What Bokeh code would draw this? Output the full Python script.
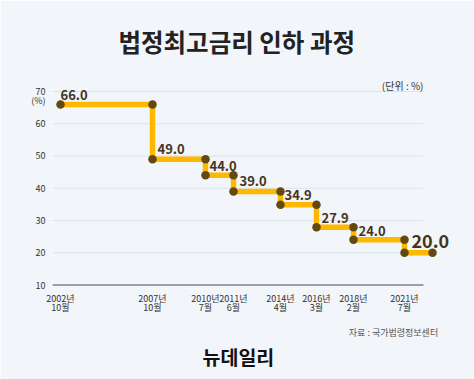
from bokeh.plotting import figure
from bokeh.models import Range1d, FixedTicker, Label, Title, LinearAxis
from bokeh.core.properties import value
from bokeh.embed import file_html
from bokeh.resources import INLINE

# ---- data ----
dates = ["2002년\n10월", "2007년\n10월", "2010년\n7월", "2011년\n6월",
         "2014년\n4월", "2016년\n3월", "2018년\n2월", "2021년\n7월"]
rates = [66.0, 49.0, 44.0, 39.0, 34.9, 27.9, 24.0, 20.0]
# horizontal slot of each date on the (hand-drawn, non-linear) time axis, plus the end of the last step
x_slot = [60, 152, 205, 233, 280, 316, 353, 404, 432]
y_ticks = [10, 20, 30, 40, 50, 60, 70]
unit_tick = 67.2          # where the "(%)" unit note sits under the top tick
source_tick = 393         # where the source note is centred
rate_labels = ["%.1f" % r for r in rates]

BG = "#f2f5fa"
FONT = "Noto Sans CJK KR"

# frame: 52..458 px horizontally, 70..288 px vertically
p = figure(width=474, height=379, output_backend="svg", toolbar_location=None,
           x_range=Range1d(52, 458), y_range=Range1d(8.915, 76.51),
           min_border_left=52, min_border_right=16, min_border_top=70, min_border_bottom=91)
p.background_fill_color = BG
p.border_fill_color = BG
p.outline_line_color = None
p.xgrid.visible = False
p.ygrid.visible = False

# title (above)
p.title.text = "법정최고금리 인하 과정"
p.title.align = "left"
p.title.offset = 66
p.title.text_font = FONT
p.title.text_font_style = "bold"
p.title.text_font_size = "24.5px"
p.title.text_color = "#222222"
p.title.standoff = 24

# axes
p.yaxis.ticker = FixedTicker(ticks=y_ticks + [unit_tick])
p.yaxis.major_label_overrides = {unit_tick: "(%)"}
p.yaxis.axis_line_color = None
p.yaxis.major_tick_line_color = None
p.yaxis.minor_tick_line_color = None
p.yaxis.major_tick_out = 0
p.yaxis.major_label_standoff = 7
p.yaxis.major_label_text_font = FONT
p.yaxis.major_label_text_font_size = "9px"
p.yaxis.major_label_text_color = "#333333"

p.xaxis.ticker = FixedTicker(ticks=x_slot[:len(dates)])
p.xaxis.major_label_overrides = {x: d for x, d in zip(x_slot, dates)}
p.xaxis.axis_line_color = None
p.xaxis.major_tick_line_color = None
p.xaxis.minor_tick_line_color = None
p.xaxis.major_tick_out = 0
p.xaxis.major_label_standoff = 3
p.xaxis.major_label_text_font = FONT
p.xaxis.major_label_text_font_size = "9px"
p.xaxis.major_label_text_line_height = 0.75
p.xaxis.major_label_text_color = "#333333"

# footer: source note (as a label-only axis row), then the logo title
src_axis = LinearAxis(ticker=FixedTicker(ticks=[source_tick]),
                      major_label_overrides={source_tick: "자료 : 국가법령정보센터"},
                      axis_line_color=None, major_tick_line_color=None, minor_tick_line_color=None,
                      major_tick_out=0, major_label_standoff=8,
                      major_label_text_font=FONT, major_label_text_font_size="9px",
                      major_label_text_color="#555555")
p.add_layout(src_axis, "below")
p.add_layout(Title(text="뉴데일리", align="left", offset=150, text_font=FONT,
                   text_font_size="19.5px", text_font_style="bold", text_color="#111111",
                   vertical_align="top", standoff=0), "below")

# grid lines (drawn from tick values)
grid_y = [t for t in y_ticks if t != y_ticks[0]]
p.segment(x0=52, x1=423, y0=grid_y, y1=grid_y, line_color="#dde2ea", line_width=1)
p.segment(x0=52, x1=423, y0=[y_ticks[0]], y1=[y_ticks[0]], line_color="#7d828c", line_width=1.5)

# step line
step_x = x_slot
step_y = rates + [rates[-1]]
p.step(x=step_x, y=step_y, mode="after", line_color="#ffb800", line_width=5.5, line_join="miter")

# dots at each corner
dot_x = [x_slot[0]]
dot_y = [rates[0]]
for i in range(1, len(rates)):
    dot_x += [x_slot[i], x_slot[i]]
    dot_y += [rates[i - 1], rates[i]]
dot_x.append(x_slot[-1])
dot_y.append(rates[-1])
p.scatter(x=dot_x, y=dot_y, size=8.5, fill_color="#634810", line_color=None)

# value labels
x_off = [0, 5, 4, 6, 4, 5, 5, 7]
y_off = [-9, -10, -9, -10, -10, -9, -9, -12]
sizes = ["13px"] * 7 + ["18px"]
for i in range(len(rates)):
    p.text(x=[x_slot[i]], y=[rates[i]], text=[rate_labels[i]], x_offset=x_off[i], y_offset=y_off[i],
           text_font=value(FONT), text_font_style="bold", text_font_size=sizes[i],
           text_color="#45341a", text_align="left", text_baseline="middle")

# unit note inside the frame
p.add_layout(Label(x=423, y=71.86, text="(단위 : %)", text_font=FONT, text_font_size="10px",
                   text_color="#333333", text_align="right", text_baseline="middle"))

html = file_html(p, INLINE)
html = html.replace("<body>", '<body style="background:%s">' % BG, 1)
open("out.html", "w").write(html)
